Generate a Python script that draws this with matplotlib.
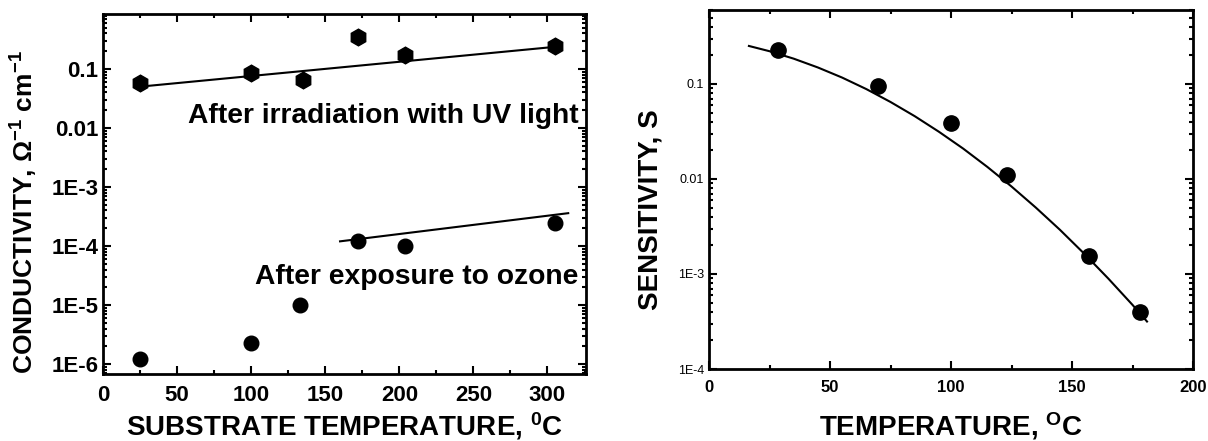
import numpy as np
import matplotlib
matplotlib.use("Agg")
import matplotlib.pyplot as plt
from matplotlib.ticker import FixedLocator, FixedFormatter, LogLocator, MultipleLocator, NullFormatter

plt.rcParams['font.family'] = ['Liberation Sans', 'DejaVu Sans']

# left panel: conductivity vs substrate temperature
uv_t = [25, 100, 135, 172, 204, 305]
uv_sigma = [0.058, 0.085, 0.065, 0.35, 0.17, 0.245]
uv_fit_t = [25, 305]
uv_fit_sigma = [0.050, 0.236]

oz_t = [25, 100, 133, 172, 204, 305]
oz_sigma = [1.2e-6, 2.3e-6, 1.0e-5, 1.2e-4, 1.0e-4, 2.5e-4]
oz_fit_t = [160, 314]
oz_fit_sigma = [1.2e-4, 3.6e-4]

left_yticks = [1e-6, 1e-5, 1e-4, 1e-3, 1e-2, 1e-1]
left_ylabels = ["1E-6", "1E-5", "1E-4", "1E-3", "0.01", "0.1"]

# right panel: sensitivity vs temperature
s_t = [28.5, 70, 100, 123, 157, 178]
s_val = [0.228, 0.095, 0.039, 0.011, 1.55e-3, 4.0e-4]
s_fit_t = [16.5, 25, 35, 45, 55, 65, 75, 85, 95, 105, 115, 125, 135, 145,
           155, 165, 175, 181]
s_fit_val = [0.251, 0.221, 0.1845, 0.149, 0.1167, 0.0883, 0.0646, 0.0458,
             0.0314, 0.0209, 0.0134, 0.00833, 0.00501, 0.00292, 0.00164,
             8.95e-4, 4.73e-4, 3.16e-4]

right_yticks = [1e-4, 1e-3, 1e-2, 1e-1]
right_ylabels = ["1E-4", "1E-3", "0.01", "0.1"]


def style_axes(ax):
    for sp in ax.spines.values():
        sp.set_linewidth(2)
    ax.tick_params(which='both', direction='in', top=True, right=True, width=1.5)
    ax.tick_params(which='major', length=6)
    ax.tick_params(which='minor', length=3)


fig = plt.figure(figsize=(12.08, 4.41), dpi=100)
ax1 = fig.add_axes([103 / 1208, 1 - 374 / 441, 483 / 1208, 360 / 441])
ax2 = fig.add_axes([709 / 1208, 1 - 369 / 441, 484 / 1208, 359 / 441])

ax1.plot(uv_t, uv_sigma, 'h', color='black', ms=12)
ax1.plot(uv_fit_t, uv_fit_sigma, '-', color='black', lw=1.5)
ax1.plot(oz_t, oz_sigma, 'o', color='black', ms=10.5)
ax1.plot(oz_fit_t, oz_fit_sigma, '-', color='black', lw=1.5)
ax1.set_yscale('log')
ax1.set_xlim(0, 326)
ax1.set_ylim(6.8e-7, 0.85)
ax1.yaxis.set_major_locator(FixedLocator(left_yticks))
ax1.yaxis.set_major_formatter(FixedFormatter(left_ylabels))
ax1.yaxis.set_minor_locator(LogLocator(base=10, subs=np.arange(2, 10)))
ax1.yaxis.set_minor_formatter(NullFormatter())
ax1.xaxis.set_major_locator(MultipleLocator(50))
ax1.xaxis.set_minor_locator(MultipleLocator(25))
style_axes(ax1)
ax1.tick_params(axis='x', pad=8)
for lab in ax1.get_xticklabels() + ax1.get_yticklabels():
    lab.set_fontweight('bold')
    lab.set_fontsize(16)
ax1.set_xlabel("SUBSTRATE TEMPERATURE, $\\mathregular{^0}$C", fontsize=20, fontweight='bold')
ax1.xaxis.set_label_coords(0.5, -0.1)
ax1.set_ylabel("CONDUCTIVITY, \u03a9$\\mathregular{^{-1}}$ cm$\\mathregular{^{-1}}$",
               fontsize=19, fontweight='bold')
ax1.yaxis.set_label_coords(-0.131, 0.45)
ax1.text(0.985, 0.718, "After irradiation with UV light", transform=ax1.transAxes,
         ha='right', va='center', fontsize=20.3, fontweight='bold')
ax1.text(0.985, 0.27, "After exposure to ozone", transform=ax1.transAxes,
         ha='right', va='center', fontsize=20.3, fontweight='bold')

ax2.plot(s_fit_t, s_fit_val, '-', color='black', lw=1.5)
ax2.plot(s_t, s_val, 'o', color='black', ms=11)
ax2.set_yscale('log')
ax2.set_xlim(0, 200)
ax2.set_ylim(1e-4, 0.6)
ax2.yaxis.set_major_locator(FixedLocator(right_yticks))
ax2.yaxis.set_major_formatter(FixedFormatter(right_ylabels))
ax2.yaxis.set_minor_locator(LogLocator(base=10, subs=np.arange(2, 10)))
ax2.yaxis.set_minor_formatter(NullFormatter())
ax2.xaxis.set_major_locator(MultipleLocator(50))
ax2.xaxis.set_minor_locator(MultipleLocator(25))
style_axes(ax2)
ax2.tick_params(axis='x', pad=8)
for lab in ax2.get_xticklabels():
    lab.set_fontweight('bold')
    lab.set_fontsize(12)
for lab in ax2.get_yticklabels():
    lab.set_fontsize(9)
ax2.set_xlabel("TEMPERATURE, $\\mathregular{^O}$C", fontsize=20, fontweight='bold')
ax2.xaxis.set_label_coords(0.5, -0.114)
ax2.set_ylabel("SENSITIVITY, S", fontsize=20, fontweight='bold')
ax2.yaxis.set_label_coords(-0.094, 0.443)

fig.savefig("out.png", dpi=100)
